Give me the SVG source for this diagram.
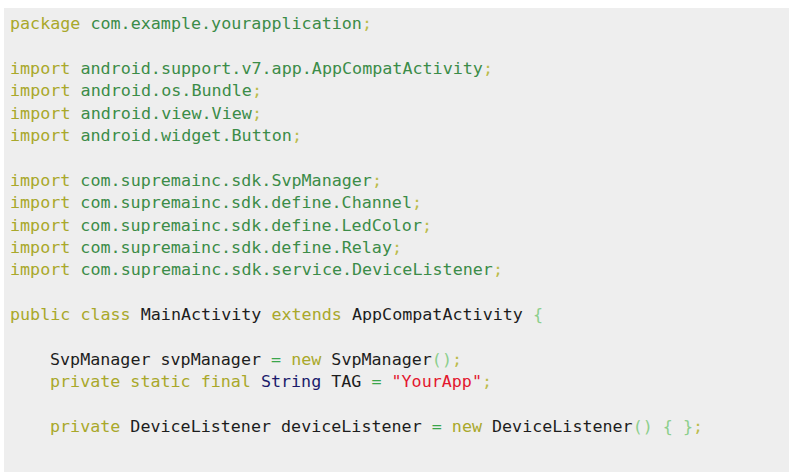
<svg xmlns="http://www.w3.org/2000/svg" width="789" height="472" viewBox="0 0 789 472">
<style>
text{font-family:"DejaVu Sans Mono","Liberation Mono",monospace;font-size:16px;white-space:pre}
.k{fill:#a9a82a}.p{fill:#3b8c48}.s{fill:#bcbc4a}.t{fill:#1d1d1d}.n{fill:#1b1b6b}.r{fill:#e3172e}.o{fill:#3aa64b}.b{fill:#8ccf8c}
</style>
<rect width="789" height="472" fill="#ffffff"/>
<rect x="4" y="8" width="785" height="464" fill="#eeeeee"/>
<g id="code">
<text x="10" y="29" textLength="362" lengthAdjust="spacingAndGlyphs"><tspan class="k">package</tspan> <tspan class="p">com.example.yourapplication</tspan><tspan class="s">;</tspan></text>
<text x="10" y="74" textLength="483" lengthAdjust="spacingAndGlyphs"><tspan class="k">import</tspan> <tspan class="p">android.support.v7.app.AppCompatActivity</tspan><tspan class="s">;</tspan></text>
<text x="10" y="96" textLength="252" lengthAdjust="spacingAndGlyphs"><tspan class="k">import</tspan> <tspan class="p">android.os.Bundle</tspan><tspan class="s">;</tspan></text>
<text x="10" y="119" textLength="252" lengthAdjust="spacingAndGlyphs"><tspan class="k">import</tspan> <tspan class="p">android.view.View</tspan><tspan class="s">;</tspan></text>
<text x="10" y="141" textLength="292" lengthAdjust="spacingAndGlyphs"><tspan class="k">import</tspan> <tspan class="p">android.widget.Button</tspan><tspan class="s">;</tspan></text>
<text x="10" y="186" textLength="372" lengthAdjust="spacingAndGlyphs"><tspan class="k">import</tspan> <tspan class="p">com.supremainc.sdk.SvpManager</tspan><tspan class="s">;</tspan></text>
<text x="10" y="208" textLength="412" lengthAdjust="spacingAndGlyphs"><tspan class="k">import</tspan> <tspan class="p">com.supremainc.sdk.define.Channel</tspan><tspan class="s">;</tspan></text>
<text x="10" y="231" textLength="422" lengthAdjust="spacingAndGlyphs"><tspan class="k">import</tspan> <tspan class="p">com.supremainc.sdk.define.LedColor</tspan><tspan class="s">;</tspan></text>
<text x="10" y="253" textLength="392" lengthAdjust="spacingAndGlyphs"><tspan class="k">import</tspan> <tspan class="p">com.supremainc.sdk.define.Relay</tspan><tspan class="s">;</tspan></text>
<text x="10" y="275" textLength="493" lengthAdjust="spacingAndGlyphs"><tspan class="k">import</tspan> <tspan class="p">com.supremainc.sdk.service.DeviceListener</tspan><tspan class="s">;</tspan></text>
<text x="10" y="320" textLength="533" lengthAdjust="spacingAndGlyphs"><tspan class="k">public class</tspan> <tspan class="t">MainActivity</tspan> <tspan class="k">extends</tspan> <tspan class="t">AppCompatActivity</tspan> <tspan class="b">{</tspan></text>
<text x="50" y="365" textLength="412" lengthAdjust="spacingAndGlyphs"><tspan class="t">SvpManager svpManager</tspan> <tspan class="o">=</tspan> <tspan class="k">new</tspan> <tspan class="t">SvpManager</tspan><tspan class="b">()</tspan><tspan class="s">;</tspan></text>
<text x="50" y="387" textLength="442" lengthAdjust="spacingAndGlyphs"><tspan class="k">private static final</tspan> <tspan class="n">String</tspan> <tspan class="t">TAG</tspan> <tspan class="o">=</tspan> <tspan class="r">"YourApp"</tspan><tspan class="s">;</tspan></text>
<text x="50" y="432" textLength="653" lengthAdjust="spacingAndGlyphs"><tspan class="k">private</tspan> <tspan class="t">DeviceListener deviceListener</tspan> <tspan class="o">=</tspan> <tspan class="k">new</tspan> <tspan class="t">DeviceListener</tspan><tspan class="b">() { }</tspan><tspan class="s">;</tspan></text>
</g>
</svg>
